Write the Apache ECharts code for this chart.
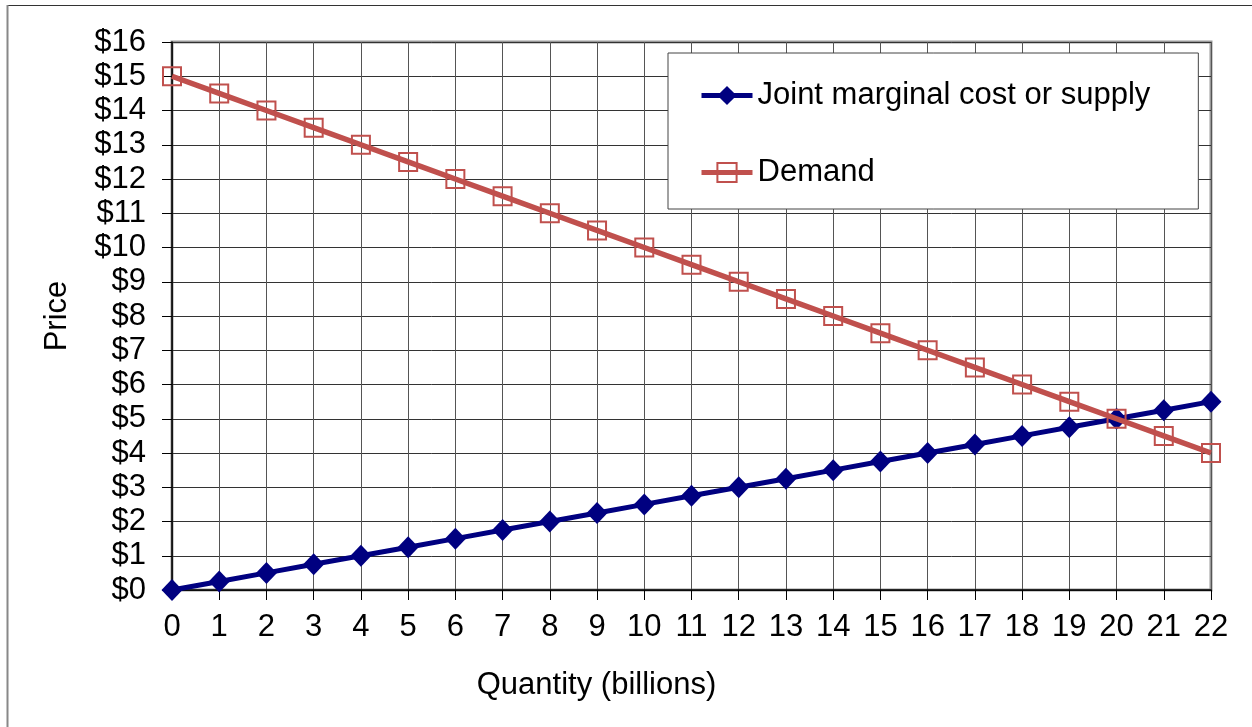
<!DOCTYPE html>
<html><head><meta charset="utf-8">
<script src="https://cdn.jsdelivr.net/npm/echarts@6/dist/echarts.min.js"></script>
<style>html,body{margin:0;padding:0;background:#fff}#c{width:1252px;height:727px}</style>
</head><body><div id="c"></div>
<script>
const quantities = [0,1,2,3,4,5,6,7,8,9,10,11,12,13,14,15,16,17,18,19,20,21,22];
const supply = [0,0.25,0.5,0.75,1,1.25,1.5,1.75,2,2.25,2.5,2.75,3,3.25,3.5,3.75,4,4.25,4.5,4.75,5,5.25,5.5];
const demand = [15,14.5,14,13.5,13,12.5,12,11.5,11,10.5,10,9.5,9,8.5,8,7.5,7,6.5,6,5.5,5,4.5,4];
const seriesNames = ['Joint marginal cost or supply','Demand'];
const xTitle = 'Quantity (billions)';
const yTitle = 'Price';

const font = 'Liberation Sans, Arial, sans-serif';
const supplyColor = '#000080';
const demandColor = '#C0504D';
const chart = echarts.init(document.getElementById('c'), null, {renderer:'canvas'});
chart.setOption({
  animation:false,
  backgroundColor:'#fff',
  graphic:[
    {type:'line', shape:{x1:7,y1:5.5,x2:1260,y2:5.5}, style:{stroke:'#333', lineWidth:1.2}, z:-10},
    {type:'line', shape:{x1:7.5,y1:5,x2:7.5,y2:740}, style:{stroke:'#888', lineWidth:2}, z:-10}
  ],
  grid:{left:172,right:41,top:42,bottom:137,show:true,borderColor:'#999',borderWidth:3,backgroundColor:'#fff'},
  legend:{
    orient:'vertical', left:668, top:53,
    backgroundColor:'#fff', borderColor:'#444', borderWidth:1,
    padding:[27,48,21,31], itemGap:46, itemWidth:51, itemHeight:24,
    textStyle:{fontFamily:font,fontSize:31,lineHeight:31,color:'#000',padding:[0,0,0,0]},
    data:[
      {name:seriesNames[0], lineStyle:{color:supplyColor,width:5}},
      {name:seriesNames[1], lineStyle:{color:demandColor,width:5}}
    ]
  },
  xAxis:{type:'value',min:0,max:22,interval:1,
    name:xTitle,nameLocation:'middle',nameGap:80,
    nameTextStyle:{fontFamily:font,fontSize:31,color:'#000',padding:[0,190,0,0]},
    axisLine:{show:true,onZero:false,lineStyle:{color:'#000',width:1.5}},
    axisTick:{show:true,length:10,lineStyle:{color:'#000'}},
    axisLabel:{fontFamily:font,fontSize:31,color:'#000',margin:22},
    splitLine:{show:true,lineStyle:{color:'#555',width:1}}},
  yAxis:{type:'value',min:0,max:16,interval:1,
    name:yTitle,nameLocation:'middle',nameGap:99,
    nameTextStyle:{fontFamily:font,fontSize:31,color:'#000'},
    axisLine:{show:true,onZero:false,lineStyle:{color:'#000',width:1.5}},
    axisTick:{show:true,length:10,lineStyle:{color:'#000'}},
    axisLabel:{fontFamily:font,fontSize:31,color:'#000',margin:26,formatter:v=>'$'+v},
    splitLine:{show:true,lineStyle:{color:'#333',width:1}}},
  series:[
    {name:seriesNames[0],type:'line',data:quantities.map((q,i)=>[q,supply[i]]),
     symbol:'diamond',symbolSize:[21,22],
     lineStyle:{color:supplyColor,width:5},itemStyle:{color:supplyColor,borderWidth:0},z:3},
    {name:seriesNames[1],type:'line',data:quantities.map((q,i)=>[q,demand[i]]),
     symbol:'rect',symbolSize:18,
     lineStyle:{color:demandColor,width:5.5},itemStyle:{color:'rgba(255,255,255,0)',borderColor:demandColor,borderWidth:2},z:4}
  ]
});
</script></body></html>
